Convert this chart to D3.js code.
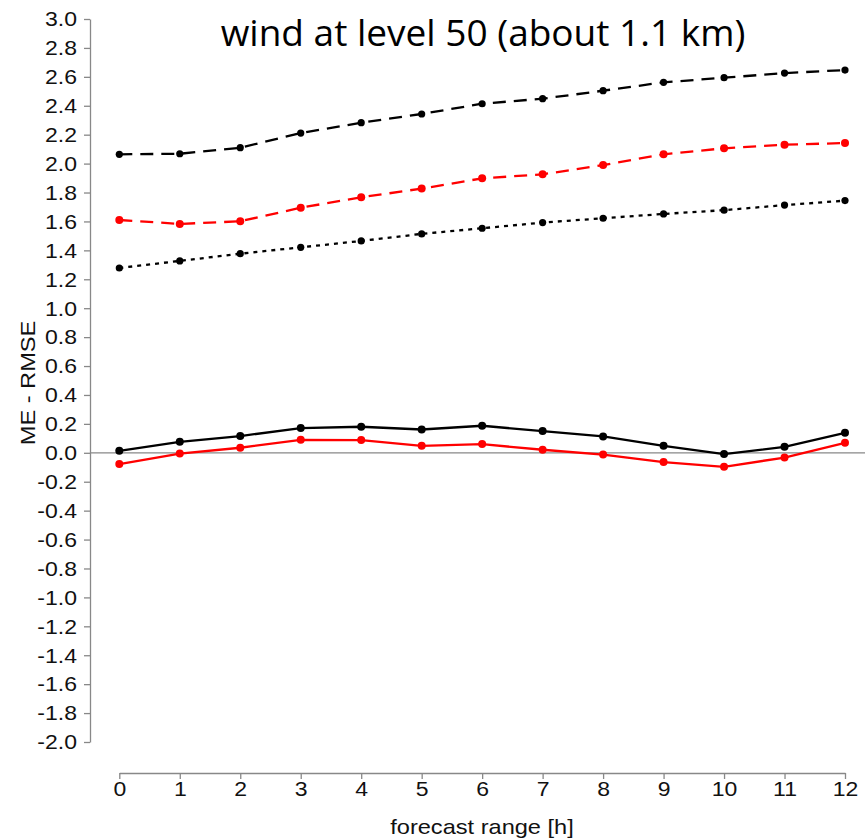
<!DOCTYPE html>
<html><head><meta charset="utf-8">
<script src="https://cdn.jsdelivr.net/npm/d3@7"></script>
<style>body{margin:0;background:#fff}svg{display:block}</style>
</head><body>
<script>
const hours = [0,1,2,3,4,5,6,7,8,9,10,11,12];
const yTicks = d3.range(-20, 31, 2).map(d => d / 10);
const rmseBlack = [2.064,2.068,2.11,2.211,2.283,2.343,2.414,2.449,2.504,2.562,2.594,2.626,2.647];
const rmseRed   = [1.61,1.583,1.601,1.695,1.767,1.827,1.898,1.926,1.99,2.064,2.106,2.131,2.142];
const rmseDotted= [1.278,1.327,1.377,1.421,1.465,1.514,1.553,1.592,1.622,1.652,1.678,1.713,1.744];
const meBlack   = [0.014,0.076,0.116,0.171,0.18,0.161,0.187,0.15,0.113,0.048,-0.009,0.041,0.138];
const meRed     = [-0.078,-0.005,0.035,0.09,0.088,0.048,0.06,0.021,-0.012,-0.064,-0.097,-0.033,0.069];
const titleText = "wind at level 50 (about 1.1 km)";
const xTitle = "forecast range [h]";
const yTitle = "ME - RMSE";

const W = 865, H = 839;
const svg = d3.select("body").append("svg").attr("width", W).attr("height", H);
const x = d3.scaleLinear().domain([0, 12]).range([119.3, 845]);
const y = d3.scaleLinear().domain([-2, 3]).range([742, 19]);
const axisColor = "#888";
const tickFont = "'Liberation Sans', Arial, sans-serif";
const fmtY = d => d.toFixed(1).replace("\u2212", "-");

// y axis
const yAx = svg.append("g").attr("transform", "translate(90,0)")
  .call(d3.axisLeft(y).tickValues(yTicks).tickSize(6).tickSizeOuter(0).tickFormat(fmtY));
yAx.select(".domain").attr("stroke", axisColor).attr("stroke-width", 1.3);
yAx.selectAll(".tick line").attr("stroke", axisColor).attr("stroke-width", 1.3);
yAx.selectAll(".tick text").attr("font-family", tickFont).attr("font-size", 19.5)
  .attr("fill", "#111").attr("dy", "0.35em")
  .attr("transform", "scale(1.18,1)").attr("x", -13/1.18);

// x axis
const xAx = svg.append("g").attr("transform", "translate(0,773)")
  .call(d3.axisBottom(x).tickValues(hours).tickSize(6).tickSizeOuter(0).tickFormat(d3.format("d")));
xAx.select(".domain").attr("stroke", axisColor).attr("stroke-width", 1.3);
xAx.selectAll(".tick line").attr("stroke", axisColor).attr("stroke-width", 1.3);
xAx.selectAll(".tick text").attr("font-family", tickFont).attr("font-size", 19.5)
  .attr("fill", "#111").attr("y", 0).attr("dy", "0").attr("transform", "translate(0,23) scale(1.18,1)");

// zero line
svg.append("line").attr("x1", 90).attr("x2", W).attr("y1", y(0)).attr("y2", y(0))
  .attr("stroke", axisColor).attr("stroke-width", 1.3);

const line = d3.line().x((d, i) => x(hours[i])).y(d => y(d));
const series = [
  {data: rmseBlack, color: "#000", dash: "13,8", r: 3.6},
  {data: rmseRed, color: "#ff0000", dash: "13,8", r: 4},
  {data: rmseDotted, color: "#000", dash: "4,5", r: 3.6},
  {data: meBlack, color: "#000", dash: null, r: 4},
  {data: meRed, color: "#ff0000", dash: null, r: 4}
];
series.forEach(s => {
  svg.append("path").datum(s.data).attr("d", line).attr("fill", "none")
    .attr("stroke", s.color).attr("stroke-width", 2.3)
    .attr("stroke-dasharray", s.dash);
  svg.append("g").selectAll("circle").data(s.data).join("circle")
    .attr("cx", (d, i) => x(hours[i])).attr("cy", d => y(d)).attr("r", s.r).attr("fill", s.color);
});

// titles
svg.append("text").attr("x", 483).attr("y", 46).attr("text-anchor", "middle")
  .attr("font-family", "'Open Sans', 'Noto Sans', sans-serif").attr("font-size", 37)
  .attr("fill", "#000").text(titleText);
svg.append("text").attr("x", 0).attr("y", 0).attr("text-anchor", "middle")
  .attr("font-family", tickFont).attr("font-size", 20).attr("fill", "#111")
  .attr("transform", "translate(482,834) scale(1.18,1)").text(xTitle);
svg.append("text").attr("text-anchor", "middle")
  .attr("font-family", tickFont).attr("font-size", 20).attr("fill", "#111")
  .attr("transform", "translate(35,383) rotate(-90) scale(1.18,1)").text(yTitle);
</script>
</body></html>
